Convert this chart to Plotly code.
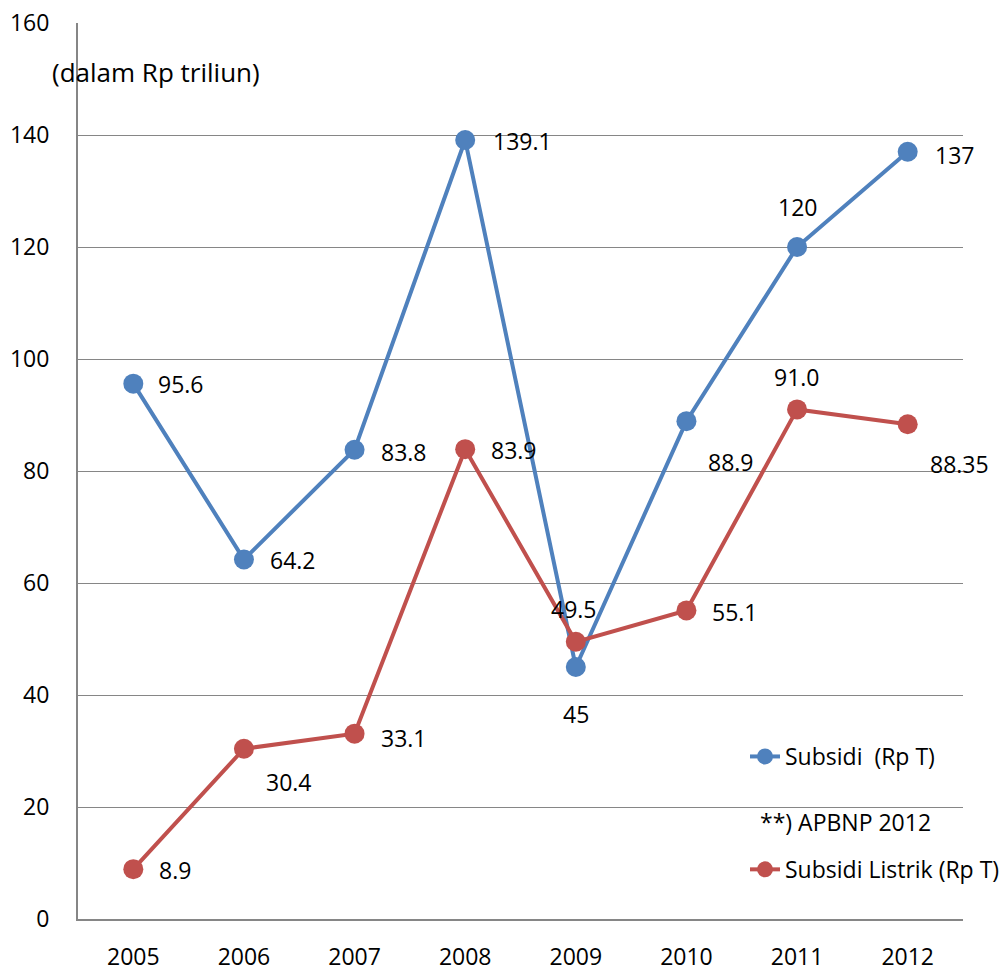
import plotly.graph_objects as go

years = ["2005", "2006", "2007", "2008", "2009", "2010", "2011", "2012"]
subsidi = [95.6, 64.2, 83.8, 139.1, 45, 88.9, 120, 137]
subsidi_labels = ["95.6", "64.2", "83.8", "139.1", "45", "88.9", "120", "137"]
listrik = [8.9, 30.4, 33.1, 83.9, 49.5, 55.1, 91.0, 88.35]
listrik_labels = ["8.9", "30.4", "33.1", "83.9", "49.5", "55.1", "91.0", "88.35"]
y_ticks = [0, 20, 40, 60, 80, 100, 120, 140, 160]

BLUE = "#4F81BD"
RED = "#C0504D"
FONT = "Open Sans"
FS = 23

W, H = 1005, 974
L, T, R, B = 78, 23, 963, 919  # plot area in page pixels
PW, PH = R - L, B - T


def px(xp):
    return (xp - L) / PW


def py(yp):
    return (B - yp) / PH


# label placement: (xanchor, xshift, yshift)
blue_pos = [("left", 23, 0), ("left", 24, -1), ("left", 24, -2), ("left", 26, -1),
            ("center", 0, -47), ("left", 20, -41), ("center", 0, 40), ("left", 25, -3)]
red_pos = [("left", 24, -1), ("left", 20, -33), ("left", 24, -4), ("left", 24, -1),
           ("center", -2, 33), ("left", 24, -2), ("center", 0, 32), ("left", 20, -40)]

fig = go.Figure()
fig.add_trace(go.Scatter(
    x=years, y=subsidi, mode="lines+markers", name="Subsidi  (Rp T)",
    line=dict(color=BLUE, width=4), marker=dict(color=BLUE, size=20),
    legendgroup="a"))
fig.add_trace(go.Scatter(
    x=years, y=listrik, mode="lines+markers", name="Subsidi Listrik (Rp T)",
    line=dict(color=RED, width=4), marker=dict(color=RED, size=20),
    legendgroup="b"))

annotations = []
for ys, labs, pos in [(subsidi, subsidi_labels, blue_pos),
                      (listrik, listrik_labels, red_pos)]:
    for i, (y, t, (xa, xsft, ysft)) in enumerate(zip(ys, labs, pos)):
        annotations.append(dict(x=i, y=y, xref="x", yref="y", text=t, showarrow=False,
                                xanchor=xa, yanchor="middle", xshift=xsft, yshift=ysft,
                                font=dict(size=FS, color="black", family=FONT)))

annotations.append(dict(x=px(50), y=py(72), xref="paper", yref="paper",
                        text="(dalam Rp triliun)", showarrow=False,
                        xanchor="left", yanchor="middle",
                        font=dict(size=26, color="black", family=FONT)))
annotations.append(dict(x=px(845), y=py(822), xref="paper", yref="paper",
                        text="**) APBNP 2012", showarrow=False,
                        xanchor="center", yanchor="middle",
                        font=dict(size=FS, color="black", family=FONT)))

fig.update_layout(
    width=W, height=H,
    margin=dict(l=L, r=W - R, t=T, b=H - B, autoexpand=False),
    paper_bgcolor="white", plot_bgcolor="white",
    font=dict(family=FONT, size=FS, color="black"),
    showlegend=True,
    legend=dict(x=px(W), y=py(735), xanchor="right", yanchor="top",
                bgcolor="rgba(0,0,0,0)", tracegroupgap=80,
                font=dict(size=FS, family=FONT, color="black")),
    xaxis=dict(type="category", showgrid=False, showline=True, linecolor="#868686",
               linewidth=2, ticks="", tickfont=dict(size=FS), range=[-0.5, 7.5],
               ticklabelstandoff=16, automargin=False, ticklabeloverflow="allow"),
    yaxis=dict(range=[0, 160], tickvals=y_ticks, showgrid=True, gridcolor="#868686",
               gridwidth=1, showline=True, linecolor="#868686", linewidth=2,
               zeroline=False, ticks="", tickfont=dict(size=FS), ticklabelstandoff=22,
               automargin=False, ticklabeloverflow="allow"),
    annotations=annotations,
)

fig.write_html("out.html", config={"displayModeBar": False},
               post_script="document.body.style.margin='0';document.body.style.overflow='hidden';")
